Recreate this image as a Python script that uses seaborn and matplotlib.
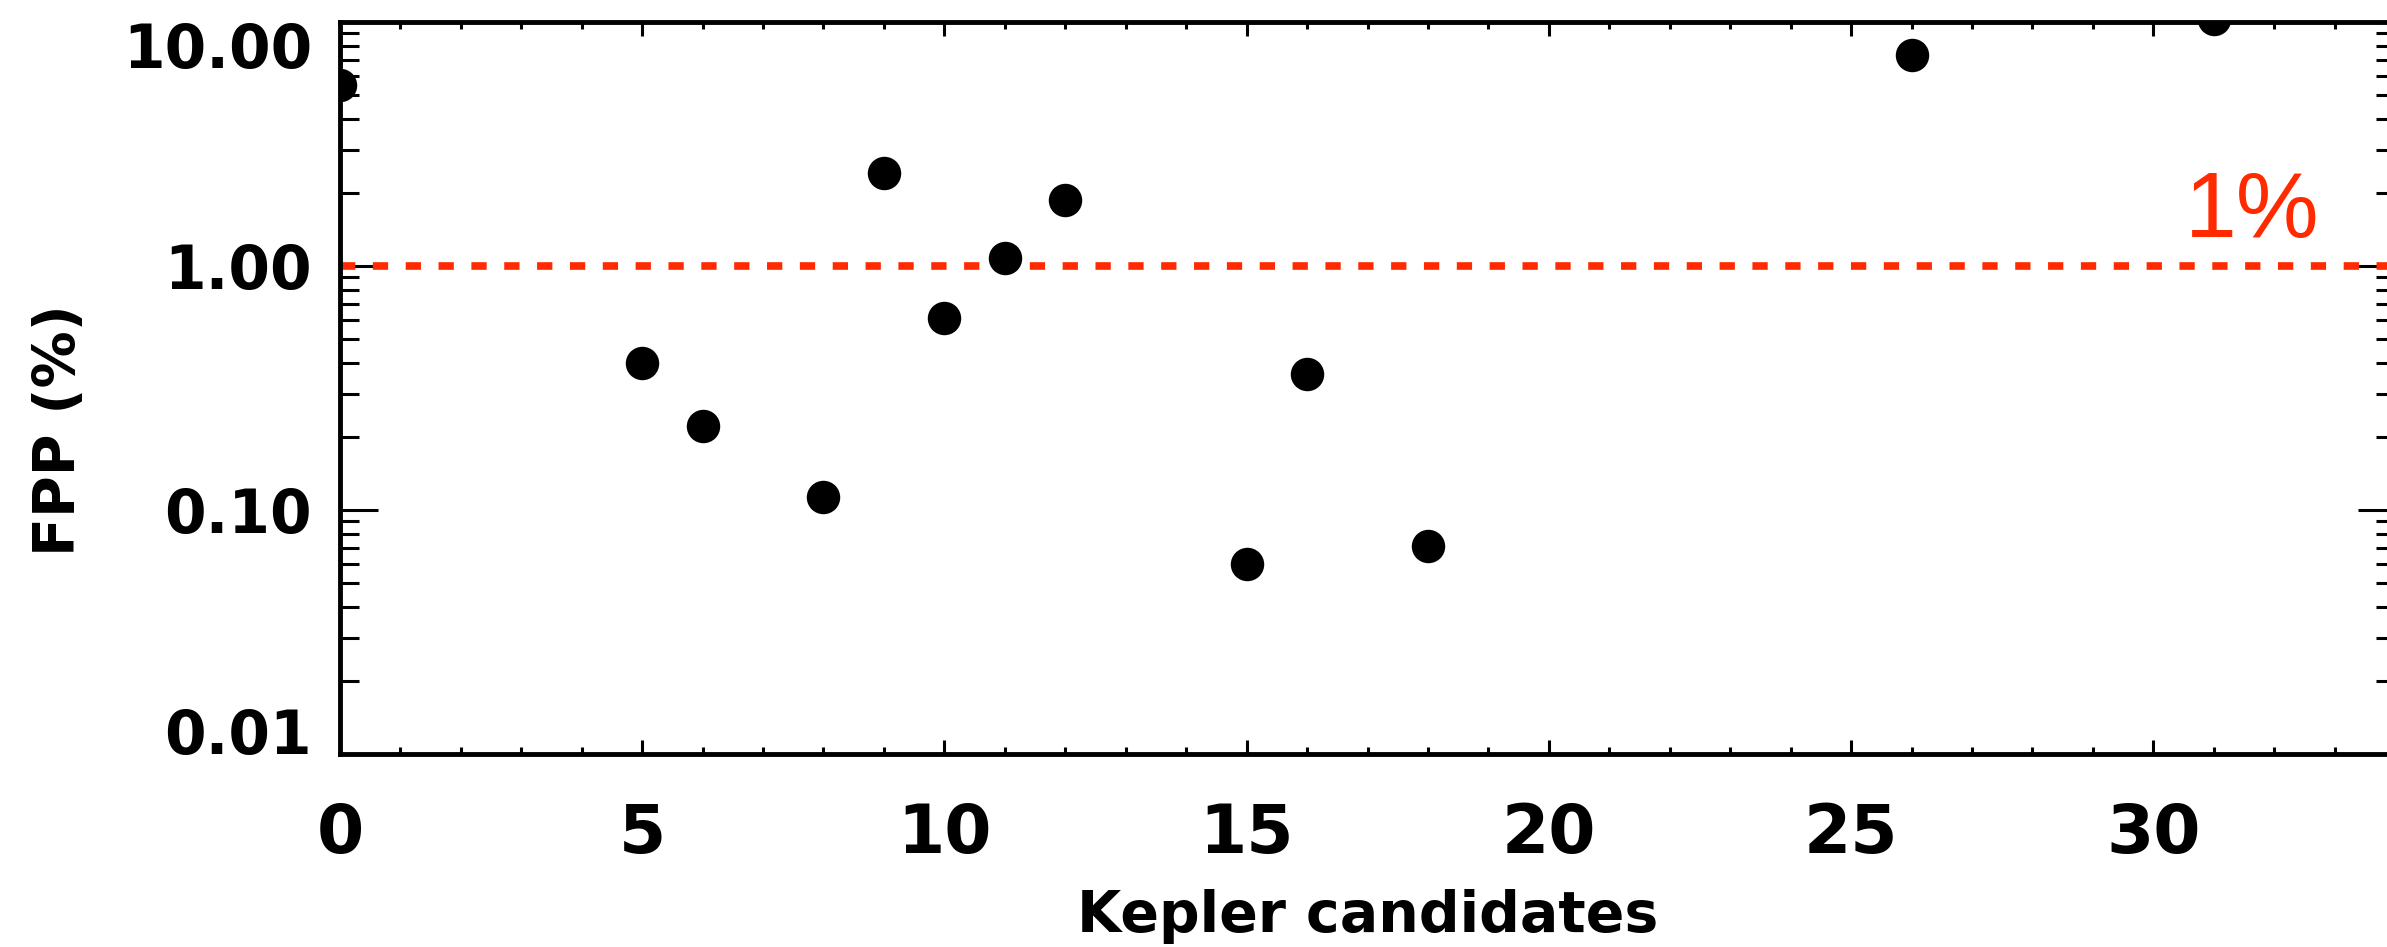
import numpy as np
import matplotlib
matplotlib.use("Agg")
import matplotlib.pyplot as plt
from matplotlib.ticker import LogLocator, MultipleLocator, NullFormatter
import seaborn as sns
import pandas as pd

# values
candidates = [0, 5, 6, 8, 9, 10, 11, 12, 15, 16, 18, 26, 31]
fpp = [5.5, 0.40, 0.22, 0.113, 2.4, 0.61, 1.08, 1.87, 0.060, 0.36, 0.071, 7.3, 10.3]
threshold = 1.0
y_ticks = [0.01, 0.1, 1.0, 10.0]
y_ticklabels = ["0.01", "0.10", "1.00", "10.00"]
x_ticks = [0, 5, 10, 15, 20, 25, 30]

sns.set_style("ticks")
plt.rcParams["font.family"] = ["DejaVu Sans"]
plt.rcParams["text.color"] = "black"
plt.rcParams["axes.labelcolor"] = "black"

df = pd.DataFrame({"cand": candidates, "fpp": fpp})

fig = plt.figure(figsize=(23.87, 9.47), dpi=100)
ax = fig.add_axes([0.1424, 0.2038, 1.0034 - 0.1424, 0.9768 - 0.2038])

sns.scatterplot(data=df, x="cand", y="fpp", color="black", s=580,
                linewidth=0, ax=ax, legend=False, zorder=3)

red = "#ff2a00"
ax.axhline(threshold, color=red, lw=5.5, dashes=(2.0, 2.3), zorder=2)
ax.text(32.75, 1.32, "1%", color=red, fontsize=67, ha="right",
        va="baseline", family=["Liberation Sans", "DejaVu Sans"])

ax.set_yscale("log")
ax.set_xlim(0, 34)
ax.set_ylim(0.01, 10)

ax.set_yticks(y_ticks)
ax.set_yticklabels(y_ticklabels)
ax.yaxis.set_minor_locator(LogLocator(base=10, subs=np.arange(2, 10)))
ax.yaxis.set_minor_formatter(NullFormatter())
ax.set_xticks(x_ticks)
ax.xaxis.set_minor_locator(MultipleLocator(1))

for s in ax.spines.values():
    s.set_linewidth(3.5)
    s.set_color("black")

ax.tick_params(axis="y", which="both", direction="in", left=True, right=True,
               width=2.2, color="black", labelcolor="black", labelsize=43, pad=20)
ax.tick_params(axis="y", which="major", length=27)
ax.tick_params(axis="y", which="minor", length=14)
ax.tick_params(axis="x", which="both", direction="in", bottom=True, top=True,
               width=2.2, color="black", labelcolor="black", labelsize=49, pad=34)
ax.tick_params(axis="x", which="major", length=10)
ax.tick_params(axis="x", which="minor", length=5)
for lab in ax.get_xticklabels() + ax.get_yticklabels():
    lab.set_fontweight("bold")

# the end labels of the y axis sit inside the frame, as in the original
yt = ax.yaxis.get_major_ticks()
yt[0].label1.set_verticalalignment("baseline")
yt[-1].label1.set_verticalalignment("top")

ax.set_xlabel("Kepler candidates", fontsize=41, fontweight="bold")
ax.set_ylabel("FPP (%)", fontsize=41, fontweight="bold")
ax.xaxis.set_label_coords(0.5, -0.185)
ax.yaxis.set_label_coords(-0.123, 0.443)

fig.savefig("out.png", dpi=100, facecolor="white")
